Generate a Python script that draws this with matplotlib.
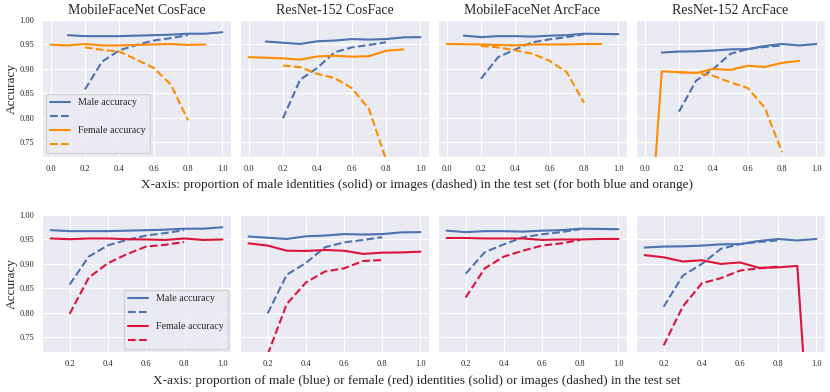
import numpy as np
import matplotlib
matplotlib.use('Agg')
import matplotlib.pyplot as plt
import seaborn as sns

sns.set_style('darkgrid')
plt.rcParams['font.family'] = ['Liberation Serif', 'DejaVu Serif']

# ---- datos ----
titles = ['MobileFaceNet CosFace', 'ResNet-152 CosFace', 'MobileFaceNet ArcFace', 'ResNet-152 ArcFace']

x_male = [0.1, 0.2, 0.3, 0.4, 0.5, 0.6, 0.7, 0.8, 0.9, 1.0]
x_female_top = [0.0, 0.1, 0.2, 0.3, 0.4, 0.5, 0.6, 0.7, 0.8, 0.9]
x_female_bot = [0.1, 0.2, 0.3, 0.4, 0.5, 0.6, 0.7, 0.8, 0.9, 1.0]
x_img = [0.2, 0.3, 0.4, 0.5, 0.6, 0.7, 0.8]

male_ident = [
    [0.969, 0.967, 0.967, 0.967, 0.968, 0.969, 0.970, 0.972, 0.972, 0.975],
    [0.956, 0.9535, 0.951, 0.9565, 0.958, 0.961, 0.960, 0.961, 0.9645, 0.965],
    [0.968, 0.965, 0.967, 0.967, 0.966, 0.968, 0.969, 0.972, 0.9715, 0.971],
    [0.9335, 0.9355, 0.936, 0.9375, 0.940, 0.9405, 0.947, 0.951, 0.948, 0.951],
]
male_img = [
    [0.858, 0.915, 0.938, 0.949, 0.958, 0.963, 0.969],
    [0.799, 0.878, 0.902, 0.934, 0.944, 0.949, 0.9545],
    [0.880, 0.924, 0.940, 0.9545, 0.9605, 0.965, 0.971],
    [0.8125, 0.876, 0.900, 0.931, 0.9405, 0.945, 0.948],
]

# fila superior: identidades/imagenes masculinas, curvas femeninas en naranja
female_ident_top = [
    [0.9495, 0.948, 0.951, 0.948, 0.948, 0.949, 0.950, 0.951, 0.949, 0.950],
    [0.924, 0.923, 0.9215, 0.919, 0.9255, 0.927, 0.925, 0.926, 0.937, 0.940],
    [0.951, 0.9505, 0.950, 0.949, 0.948, 0.950, 0.950, 0.950, 0.951, 0.951],
    [0.40, 0.895, 0.8935, 0.8915, 0.900, 0.898, 0.9065, 0.904, 0.9125, 0.9165],
]
female_img_top = [
    [0.944, 0.939, 0.9355, 0.919, 0.902, 0.868, 0.795],
    [0.907, 0.9035, 0.890, 0.8815, 0.861, 0.8185, 0.715],
    [0.947, 0.944, 0.938, 0.931, 0.9165, 0.893, 0.831],
    [0.893, 0.892, 0.886, 0.8725, 0.861, 0.8205, 0.730],
]

# fila inferior: identidades/imagenes femeninas, en rojo
female_ident_bot = [
    [0.952, 0.9505, 0.952, 0.952, 0.9505, 0.950, 0.949, 0.952, 0.949, 0.950],
    [0.942, 0.9375, 0.927, 0.9265, 0.9285, 0.927, 0.9205, 0.923, 0.9235, 0.925],
    [0.953, 0.953, 0.952, 0.952, 0.952, 0.949, 0.950, 0.950, 0.951, 0.951],
    [0.918, 0.9135, 0.905, 0.9075, 0.900, 0.903, 0.892, 0.893, 0.896, 0.31],
]
female_img_bot = [
    [0.798, 0.872, 0.9015, 0.920, 0.9355, 0.939, 0.945],
    [0.715, 0.818, 0.862, 0.8845, 0.891, 0.906, 0.908],
    [0.8315, 0.891, 0.915, 0.927, 0.9375, 0.942, 0.949],
    [0.7335, 0.813, 0.8605, 0.871, 0.8865, 0.891, 0.8945],
]

blue = '#4C72B0'
orange = '#FF8C00'
red = '#DC143C'

fig = plt.figure(figsize=(8.3, 3.92), dpi=100)
W, H = 830, 392
lefts = [42, 240, 438, 636]
aw = 189
ah = 137

def make_ax(left, top):
    return fig.add_axes([left / W, 1 - (top + ah) / H, aw / W, ah / H])

yticks = [0.75, 0.80, 0.85, 0.90, 0.95, 1.00]

for row in range(2):
    top = 20 if row == 0 else 215
    for i in range(4):
        ax = make_ax(lefts[i], top)
        l1, = ax.plot(x_male, male_ident[i], color=blue, lw=1.5)
        l2, = ax.plot(x_img, male_img[i], color=blue, lw=1.5, ls='--')
        if row == 0:
            l3, = ax.plot(x_female_top, female_ident_top[i], color=orange, lw=1.5)
            l4, = ax.plot(x_img, female_img_top[i], color=orange, lw=1.5, ls='--')
            ax.set_xticks([0.0, 0.2, 0.4, 0.6, 0.8, 1.0])
            ax.set_xlim(-0.05, 1.05)
            ax.set_title(titles[i], fontsize=10, pad=4)
        else:
            l3, = ax.plot(x_female_bot, female_ident_bot[i], color=red, lw=1.5)
            l4, = ax.plot(x_img, female_img_bot[i], color=red, lw=1.5, ls='--')
            ax.set_xticks([0.2, 0.4, 0.6, 0.8, 1.0])
            ax.set_xlim(0.055, 1.045)
        ax.set_ylim(0.72, 1.0)
        ax.set_yticks(yticks)
        ax.tick_params(labelsize=6, pad=2)
        ax.set_xticklabels(['%.1f' % t for t in ax.get_xticks()])
        if i == 0:
            ax.set_yticklabels(['%.2f' % t for t in yticks])
            ax.set_ylabel('Accuracy', fontsize=9.5, labelpad=1)
            handles = [l1, l2, l3, l4]
            labels = ['Male accuracy', '', 'Female accuracy', '']
            if row == 0:
                ax.legend(handles, labels, loc='lower left', fontsize=7.2,
                          borderaxespad=0.4, frameon=True)
            else:
                ax.legend(handles, labels, loc='lower right', fontsize=7.2,
                          borderaxespad=0.3, frameon=True)
        else:
            ax.set_yticklabels([])

fig.text(417 / W, 1 - 185 / H, 'X-axis: proportion of male identities (solid) or images (dashed) in the test set (for both blue and orange)',
         ha='center', va='center', fontsize=9.5)
fig.text(417 / W, 1 - 381 / H, 'X-axis: proportion of male (blue) or female (red) identities (solid) or images (dashed) in the test set',
         ha='center', va='center', fontsize=9.5)

fig.savefig('out.png', dpi=100)
